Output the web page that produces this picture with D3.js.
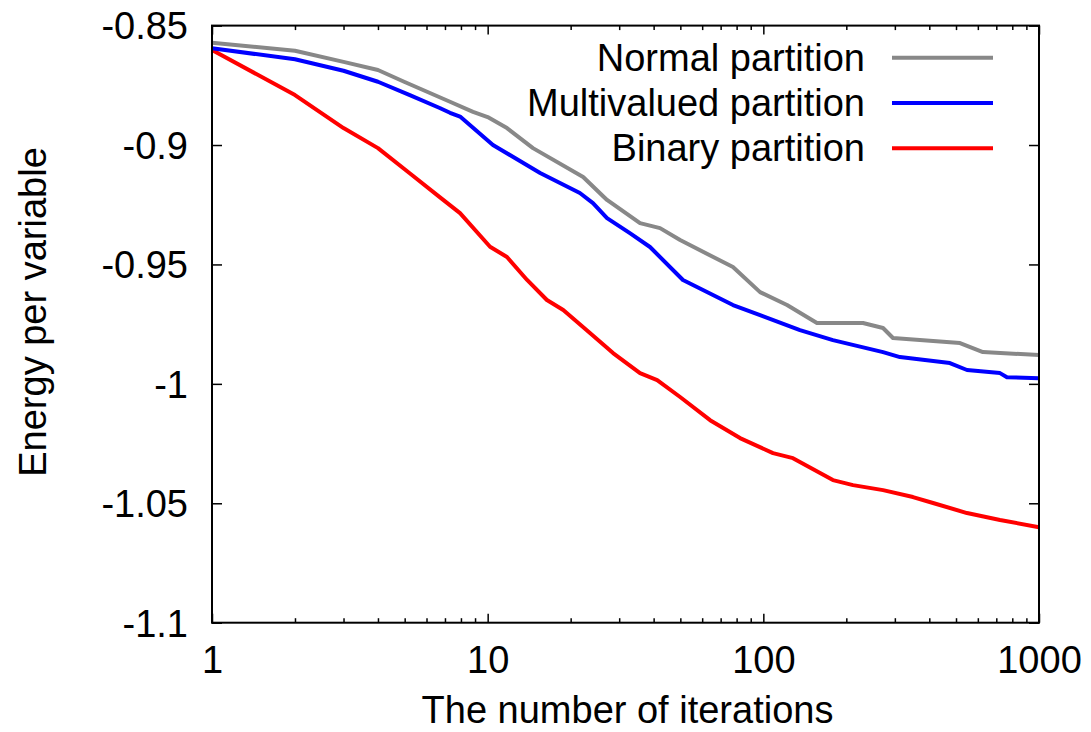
<!DOCTYPE html>
<html lang="en">
<head>
<meta charset="UTF-8">
<title>Energy per variable</title>
<script src="https://d3js.org/d3.v7.min.js"></script>
<style>
    body { margin: 0; background: #fff; }
    text { font-family: "Liberation Sans", Arial, sans-serif; fill: #000; }
    .frame { fill: none; stroke: #000; stroke-width: 2; }
    .tick line { stroke: #000; stroke-width: 1.5; }
    .series { fill: none; stroke-width: 4; stroke-linejoin: round; }
</style>
</head>
<body>
<script>
// data
const normalX = [1, 2, 3, 4, 5, 7.3, 8.85, 10, 11.75, 14.6, 22.2, 27.1, 35.7, 42.2, 49.9, 77.6, 97.3, 121.9, 156.5, 229.9, 271.8, 295.3, 517, 626, 1000];
const normalY = [-0.8572, -0.8605, -0.8652, -0.8686, -0.8736, -0.8819, -0.8861, -0.8883, -0.8929, -0.9013, -0.9134, -0.9230, -0.9327, -0.9348, -0.9398, -0.9511, -0.9616, -0.9670, -0.9745, -0.9745, -0.9766, -0.9808, -0.9829, -0.9867, -0.9879];

const multiX = [1, 2, 3, 4, 5.22, 6.7, 7.3, 7.94, 10.45, 15.5, 21.6, 24.1, 27.1, 32.8, 38.8, 51.1, 77.6, 97.3, 135.8, 178.8, 271.8, 313, 475, 548, 722, 765, 1000];
const multiY = [-0.8595, -0.8641, -0.8689, -0.8735, -0.8791, -0.8845, -0.8865, -0.8881, -0.9000, -0.9117, -0.9201, -0.9243, -0.9306, -0.9369, -0.9427, -0.9565, -0.9670, -0.9712, -0.9775, -0.9817, -0.9867, -0.9888, -0.9913, -0.9942, -0.9955, -0.9972, -0.9976];

const binaryX = [1, 2, 3, 4, 5.2, 6.7, 7.94, 10.2, 11.75, 13.9, 16.4, 18.8, 23.5, 28.5, 35.7, 41.2, 49.9, 64.1, 82.3, 108.4, 128.1, 178.8, 211.5, 271.8, 349, 412.7, 548, 722, 1000];
const binaryY = [-0.8602, -0.8791, -0.8929, -0.9013, -0.9117, -0.9218, -0.9285, -0.9426, -0.9469, -0.9565, -0.9649, -0.9691, -0.9787, -0.9871, -0.9955, -0.9984, -1.0055, -1.0152, -1.0227, -1.0290, -1.0311, -1.0403, -1.0424, -1.0445, -1.0474, -1.0499, -1.0541, -1.0570, -1.0600];

const seriesNames = ["Normal partition", "Multivalued partition", "Binary partition"];
const seriesColors = ["#888888", "#0000ff", "#ff0000"];
const yTicks = [-0.85, -0.9, -0.95, -1, -1.05, -1.1];
const yTickLabels = ["-0.85", "-0.9", "-0.95", "-1", "-1.05", "-1.1"];
const xTicks = [1, 10, 100, 1000];

const W = 1091, H = 732;
const plotL = 212, plotR = 1039, plotT = 25.6, plotB = 622.7;
const fontSize = "38px";

const svg = d3.select("body").append("svg")
    .attr("width", W)
    .attr("height", H);

const x = d3.scaleLog().domain([1, 1000]).range([plotL, plotR]);
const y = d3.scaleLinear().domain([-0.85, -1.1]).range([plotT, plotB]);

// minor log ticks
const minorX = [];
for (let d = 1; d < 1000; d *= 10) {
    for (let k = 2; k <= 9; k++) minorX.push(d * k);
}

// bottom / top axes (ticks pointing in)
const fmt = d => String(d);
svg.append("g").attr("class", "tick")
    .attr("transform", `translate(0,${plotB})`)
    .call(d3.axisBottom(x).tickValues(xTicks).tickFormat(fmt).tickSizeInner(-9).tickSizeOuter(0))
    .call(g => g.select(".domain").remove())
    .call(g => g.selectAll("text").attr("y", 50).attr("dy", null).style("font-size", fontSize));
svg.append("g").attr("class", "tick")
    .attr("transform", `translate(0,${plotB})`)
    .call(d3.axisBottom(x).tickValues(minorX).tickFormat("").tickSizeInner(-4.5).tickSizeOuter(0))
    .call(g => g.select(".domain").remove());
svg.append("g").attr("class", "tick")
    .attr("transform", `translate(0,${plotT})`)
    .call(d3.axisTop(x).tickValues(xTicks).tickFormat("").tickSizeInner(-9).tickSizeOuter(0))
    .call(g => g.select(".domain").remove());
svg.append("g").attr("class", "tick")
    .attr("transform", `translate(0,${plotT})`)
    .call(d3.axisTop(x).tickValues(minorX).tickFormat("").tickSizeInner(-4.5).tickSizeOuter(0))
    .call(g => g.select(".domain").remove());

// left / right axes
svg.append("g").attr("class", "tick")
    .attr("transform", `translate(${plotL},0)`)
    .call(d3.axisLeft(y).tickValues(yTicks).tickFormat((d, i) => yTickLabels[i]).tickSizeInner(-10).tickSizeOuter(0))
    .call(g => g.select(".domain").remove())
    .call(g => g.selectAll("text").attr("x", -24).attr("dy", "0.35em").style("font-size", fontSize));
svg.append("g").attr("class", "tick")
    .attr("transform", `translate(${plotR},0)`)
    .call(d3.axisRight(y).tickValues(yTicks).tickFormat("").tickSizeInner(-10).tickSizeOuter(0))
    .call(g => g.select(".domain").remove());

// lines
const series = [
    {name: seriesNames[0], color: seriesColors[0], xs: normalX, ys: normalY},
    {name: seriesNames[1], color: seriesColors[1], xs: multiX, ys: multiY},
    {name: seriesNames[2], color: seriesColors[2], xs: binaryX, ys: binaryY}
];
const line = d3.line().x(d => x(d[0])).y(d => y(d[1]));

// draw binary first so normal sits on top like the original
series.slice().reverse().forEach(s => {
    svg.append("path")
        .attr("class", "series")
        .attr("stroke", s.color)
        .attr("d", line(s.xs.map((v, i) => [v, s.ys[i]])));
});

// frame
svg.append("rect").attr("class", "frame")
    .attr("x", plotL).attr("y", plotT)
    .attr("width", plotR - plotL).attr("height", plotB - plotT);

// legend
const legend = svg.append("g");
series.forEach((s, i) => {
    const ly = 57.7 + i * 45.3;
    legend.append("text")
        .attr("x", 865).attr("y", ly + 13)
        .attr("text-anchor", "end")
        .style("font-size", fontSize)
        .text(s.name);
    legend.append("line")
        .attr("x1", 892).attr("x2", 993)
        .attr("y1", ly).attr("y2", ly)
        .attr("stroke", s.color).attr("stroke-width", 4);
});

// axis titles
svg.append("text")
    .attr("x", (plotL + plotR) / 2 + 2).attr("y", 723)
    .attr("text-anchor", "middle")
    .style("font-size", fontSize)
    .text("The number of iterations");
svg.append("text")
    .attr("transform", "translate(46,312) rotate(-90)")
    .attr("text-anchor", "middle")
    .style("font-size", fontSize)
    .text("Energy per variable");
</script>
</body>
</html>
